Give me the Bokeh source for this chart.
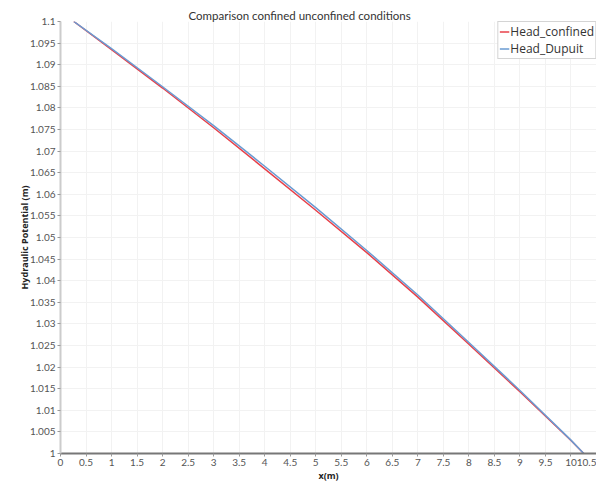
from bokeh.plotting import figure
from bokeh.models import FixedTicker, Legend, LegendItem
from bokeh.embed import file_html
from bokeh.resources import INLINE

# data
x_vals = [0.26, 1, 2, 3, 4, 5, 6, 7, 8, 9, 10, 10.25]
head_confined = [1.1, 1.0935, 1.0846, 1.0754, 1.0659, 1.0563, 1.0465, 1.0362, 1.0253, 1.0143, 1.0030, 1.0]
head_dupuit = [1.1, 1.0937, 1.0849, 1.0759, 1.0665, 1.0569, 1.0470, 1.0367, 1.0257, 1.0146, 1.0031, 1.0]

x_ticks = [i * 0.5 for i in range(22)]
y_ticks = [round(1.0 + i * 0.005, 3) for i in range(21)]
x_tick_labels = {t: f"{t:g}" for t in x_ticks}
y_tick_labels = {t: f"{t:g}" for t in y_ticks}

title_text = "Comparison confined unconfined conditions"

p = figure(width=596, height=484, output_backend="svg", toolbar_location=None,
           x_range=(0, 10.5), y_range=(1.0, 1.1),
           min_border_left=60, min_border_right=0, min_border_top=21, min_border_bottom=31)
p.outline_line_color = None
p.background_fill_color = "white"
p.border_fill_color = "white"

FONT = "Lato"
p.title.text = title_text
p.title.text_font = FONT
p.title.text_font_size = "11.5px"
p.title.text_font_style = "normal"
p.title.text_color = "#333333"
p.title.align = "left"
p.title.offset = 128
p.title.standoff = 0

for ax in (p.xaxis[0], p.yaxis[0]):
    ax.major_label_text_font = FONT
    ax.major_label_text_font_size = "10px"
    ax.major_label_text_color = "#555555"
    ax.axis_label_text_font = "Open Sans"
    ax.axis_label_text_font_size = "9px"
    ax.axis_label_text_font_style = "bold"
    ax.axis_label_text_color = "#222222"
    ax.minor_tick_line_color = None
    ax.major_tick_in = 0
    ax.major_tick_out = 3
    ax.major_tick_line_color = "#999999"

p.xaxis.ticker = FixedTicker(ticks=x_ticks)
p.yaxis.ticker = FixedTicker(ticks=y_ticks)
p.xaxis.major_label_overrides = x_tick_labels
p.yaxis.major_label_overrides = y_tick_labels
p.xaxis.axis_label = "x(m)"
p.yaxis.axis_label = "Hydraulic Potential (m)"
p.xaxis.axis_line_color = "#777777"
p.xaxis.axis_line_width = 2
p.yaxis.axis_line_color = "#cccccc"
p.yaxis.axis_line_width = 2
p.xaxis.major_label_standoff = 2
p.yaxis.major_label_standoff = 2
p.xaxis.axis_label_standoff = 0
p.yaxis.axis_label_standoff = -4

p.xgrid.ticker = FixedTicker(ticks=x_ticks)
p.ygrid.ticker = FixedTicker(ticks=y_ticks)
p.grid.grid_line_color = "#f2f2f2"
p.grid.grid_line_width = 1

r1 = p.line(x_vals, head_confined, line_color="#e8414a", line_width=1.5)
r2 = p.line(x_vals, head_dupuit, line_color="#6a9bd2", line_width=1.5)

legend = Legend(items=[LegendItem(label="Head_confined", renderers=[r1]),
                       LegendItem(label="Head_Dupuit", renderers=[r2])],
                location="top_right", margin=0, padding=1, spacing=0,
                glyph_width=10, glyph_height=11, label_height=11,
                label_standoff=1,
                label_text_font="Open Sans", label_text_font_size="12px",
                label_text_line_height=0.9,
                label_text_color="#333333",
                border_line_color="#aaaaaa", border_line_width=1,
                background_fill_alpha=1.0)
p.add_layout(legend)

open("out.html", "w").write(file_html(p, INLINE))
